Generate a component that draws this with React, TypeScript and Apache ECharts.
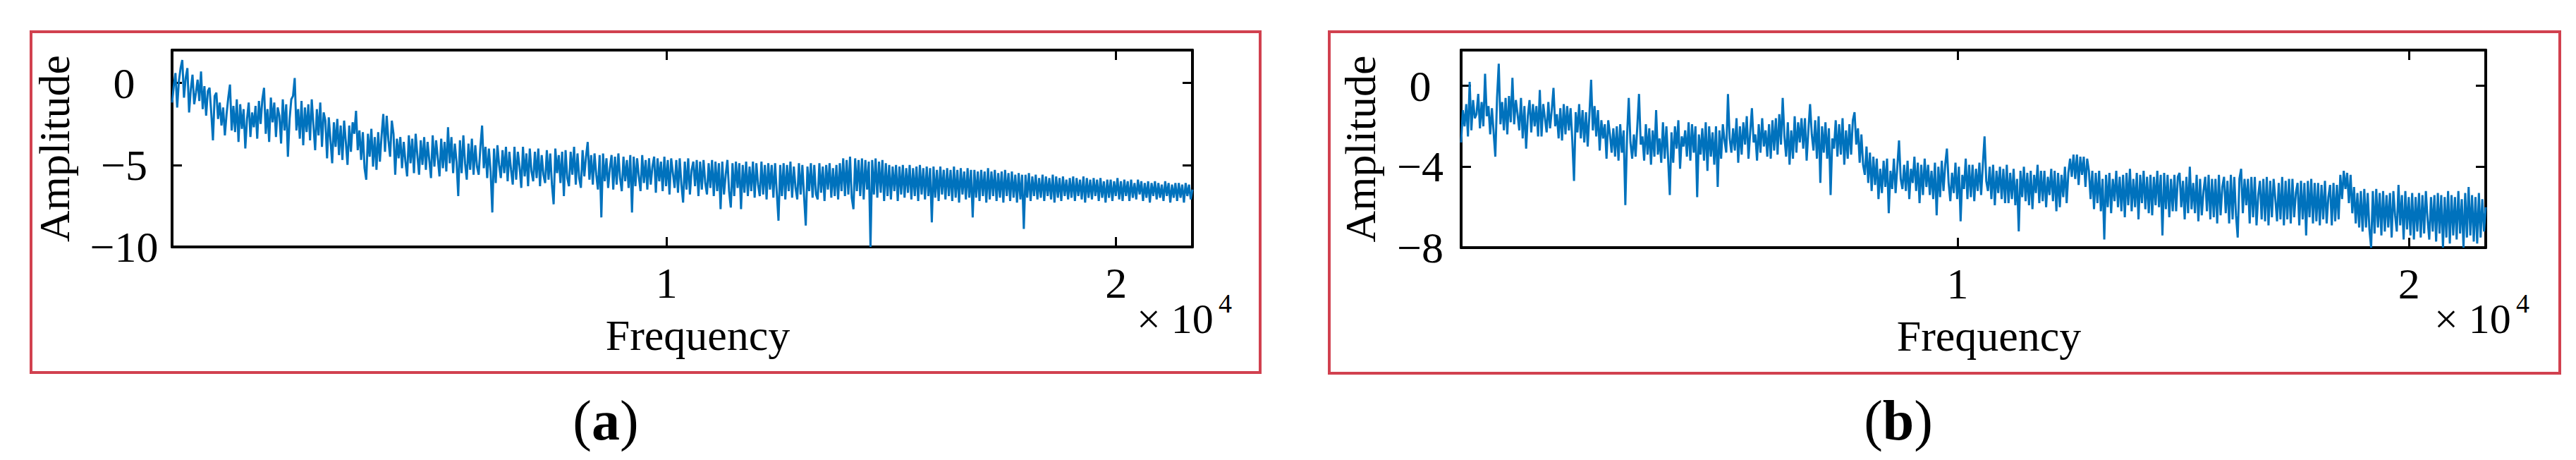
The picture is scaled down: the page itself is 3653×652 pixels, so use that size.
import React, { useEffect, useRef } from "react";
import * as echarts from "echarts";

// ---------- data ----------
const FREQ_MIN = -1000;
const FREQ_MAX = 21700;
const xTickValues = [10000, 20000];
const xTickLabels = ["1", "2"];
const yTicksA = [-10, -5, 0];
const yTicksB = [-8, -4, 0];
const yRangeA = [-10, 2];
const yRangeB = [-8, 1.77];
const panelLabels = ["a", "b"];

const ampA = [
  -1.2, -0.2, 0.6, -1.5, 0.1, 0.9, 1.4, -0.9, 0.3, 0.9,
  -1.8, -0.4, 0.5, -1.3, -0.6, 0.2, -1.1, 0.7, -1.6, -0.2,
  -2.0, -0.5, -0.3, -1.8, -3.5, -0.8, -0.6, -2.2, -1.2, -2.6,
  -1.5, -3.2, -1.9, -0.9, -0.1, -2.9, -1.4, -3.0, -1.0, -3.6,
  -1.3, -2.8, -1.6, -4.0, -2.2, -1.2, -3.3, -1.8, -2.7, -1.4,
  -3.4, -1.1, -2.5, -1.0, -0.3, -3.1, -1.6, -3.6, -0.9, -2.4,
  -1.2, -3.3, -1.5, -2.0, -3.7, -1.0, -2.9, -1.3, -4.5, -2.2,
  -1.0, -0.8, 0.3, -2.9, -1.6, -3.4, -1.1, -3.8, -1.5, -3.0,
  -1.3, -3.5, -1.0, -2.6, -4.1, -1.6, -3.2, -1.2, -3.9, -1.8,
  -2.3, -4.6, -2.1, -3.5, -4.9, -2.4, -3.9, -2.2, -4.4, -2.6,
  -4.7, -2.3, -3.6, -5.0, -2.6, -4.2, -2.4, -3.1, -1.7, -4.1,
  -2.9, -4.7, -3.0, -5.2, -5.9, -3.1, -4.5, -2.8, -5.1, -3.3,
  -5.3, -3.0, -4.8, -3.2, -1.9, -4.2, -2.0, -3.5, -4.5, -2.3,
  -3.1, -5.6, -3.4, -4.6, -3.3, -5.2, -3.6, -4.8, -5.7, -3.2,
  -4.9, -3.4, -5.5, -3.1, -4.4, -5.6, -3.5, -5.0, -3.3, -5.3,
  -3.6, -4.7, -5.8, -3.2, -5.1, -3.5, -4.6, -5.7, -3.4, -5.2,
  -3.6, -5.4, -2.7, -4.9, -3.3, -5.5, -3.7, -4.8, -6.9, -3.5,
  -5.5, -3.2, -4.9, -5.9, -3.7, -5.3, -3.4, -5.6, -3.8, -5.1,
  -5.6, -3.9, -2.6, -5.2, -3.9, -5.8, -4.0, -5.4, -7.9, -4.0,
  -6.1, -3.8, -5.0, -5.8, -4.1, -5.5, -3.9, -6.0, -4.2, -5.3,
  -6.2, -3.9, -5.9, -4.2, -5.1, -6.4, -3.9, -5.7, -4.3, -6.3,
  -4.0, -5.4, -6.0, -4.2, -5.8, -4.0, -6.3, -4.4, -5.6, -6.1,
  -4.1, -5.9, -4.3, -6.2, -7.4, -4.0, -5.5, -4.4, -6.1, -4.2,
  -6.9, -4.1, -5.8, -6.3, -4.2, -5.6, -3.9, -6.2, -4.3, -5.8,
  -6.4, -4.1, -5.7, -4.5, -3.6, -5.9, -4.4, -6.2, -4.3, -5.6,
  -6.5, -4.4, -8.2, -4.3, -6.0, -4.6, -6.4, -5.2, -4.4, -6.5,
  -4.5, -6.2, -4.3, -5.8, -6.6, -4.5, -6.0, -4.7, -6.4, -4.4,
  -7.9, -4.5, -6.3, -4.6, -5.7, -6.6, -4.4, -6.1, -4.7, -6.5,
  -4.6, -6.2, -5.1, -4.5, -6.7, -4.6, -6.0, -4.8, -6.6, -4.5,
  -6.3, -4.7, -6.8, -4.6, -5.5, -6.4, -4.7, -6.7, -4.6, -6.2,
  -7.3, -4.8, -6.5, -4.6, -6.8, -5.3, -4.8, -6.3, -4.7, -6.9,
  -4.8, -6.5, -4.7, -6.1, -6.8, -4.9, -6.4, -4.7, -6.9, -4.8,
  -6.6, -4.9, -7.7, -4.8, -6.8, -5.6, -4.7, -6.6, -7.6, -4.9,
  -6.9, -4.8, -6.4, -4.9, -7.7, -5.0, -6.7, -4.8, -6.9, -5.1,
  -6.6, -4.8, -7.0, -4.9, -6.2, -6.9, -4.8, -6.8, -5.0, -7.1,
  -4.9, -6.5, -5.0, -7.0, -4.9, -6.7, -8.4, -5.0, -6.9, -4.9,
  -7.1, -5.0, -6.6, -4.8, -7.0, -5.1, -6.4, -7.1, -4.9, -6.8,
  -5.0, -6.9, -8.7, -5.1, -6.6, -4.9, -7.0, -5.0, -6.8, -7.1,
  -4.9, -6.7, -5.1, -7.2, -5.0, -6.5, -4.9, -7.0, -5.2, -6.9,
  -5.0, -7.1, -4.9, -6.6, -4.6, -6.9, -4.7, -6.8, -4.5, -7.0,
  -7.7, -4.6, -6.6, -4.7, -6.9, -4.6, -7.1, -4.7, -6.5, -4.8,
  -10.0, -4.7, -6.8, -4.6, -7.0, -4.8, -6.7, -4.7, -7.2, -4.9,
  -6.9, -5.0, -7.1, -5.1, -6.6, -5.0, -7.2, -5.1, -6.8, -5.0,
  -7.0, -5.2, -6.7, -5.0, -7.1, -5.2, -6.9, -5.1, -7.2, -5.0,
  -6.8, -5.2, -7.1, -5.1, -6.9, -5.2, -8.5, -5.1, -7.0, -5.3,
  -7.2, -5.1, -6.8, -5.3, -7.1, -5.2, -6.9, -5.3, -7.2, -5.1,
  -7.0, -5.3, -7.3, -5.2, -6.8, -5.4, -7.1, -5.2, -7.0, -5.3,
  -8.2, -5.3, -7.0, -5.4, -7.2, -5.3, -6.9, -5.4, -7.3, -5.2,
  -7.1, -5.4, -6.9, -5.3, -7.2, -5.5, -7.0, -5.4, -7.3, -5.3,
  -6.9, -5.5, -7.2, -5.4, -7.0, -5.6, -7.3, -5.5, -7.1, -5.6,
  -8.9, -5.6, -7.0, -5.5, -7.2, -5.7, -6.9, -5.6, -7.1, -5.8,
  -7.0, -5.6, -7.2, -5.7, -6.9, -5.8, -7.1, -5.6, -7.3, -5.7,
  -7.0, -5.8, -7.2, -5.7, -6.9, -5.9, -7.1, -5.8, -7.0, -5.7,
  -7.2, -5.8, -6.9, -5.9, -7.1, -5.7, -7.3, -5.8, -7.0, -5.9,
  -7.1, -5.8, -6.9, -5.9, -7.2, -5.8, -7.0, -6.0, -7.3, -5.9,
  -7.0, -5.9, -7.2, -6.0, -6.9, -5.8, -7.1, -6.0, -7.2, -5.9,
  -6.9, -6.0, -7.2, -5.9, -7.0, -6.1, -7.1, -5.9, -6.8, -6.0,
  -7.2, -6.1, -7.0, -6.0, -7.3, -6.1, -6.9, -6.0, -7.1, -6.1,
  -7.0, -6.2, -7.2, -6.0, -6.9, -6.1, -7.3, -6.2, -7.0, -6.1,
  -7.2, -6.1, -7.0, -6.2, -7.3, -6.1, -6.9, -6.2, -7.1, -6.5,
];

const ampB = [
  -2.8, -1.2, -2.0, -0.9, -2.5, 0.2, -2.2, -0.7, -1.6, -1.4,
  -0.4, -2.1, -0.8, -2.0, 0.6, -1.5, -1.0, -2.4, -1.1, -2.3,
  -3.5, -0.6, 1.1, -1.9, -0.8, -2.2, -0.6, -2.4, -0.5, -1.8,
  0.4, -1.9, -0.7, -1.4, -2.2, -0.6, -2.6, -1.0, -3.1, -1.5,
  -0.7, -2.3, -0.9, -2.0, -1.0, -2.5, -0.2, -2.5, -0.9, -1.6,
  -2.3, -0.8, -2.1, -1.2, -0.1, -2.0, -1.4, -2.6, -1.1, -2.7,
  -0.9, -2.4, -1.0, -2.2, -1.1, -2.7, -4.7, -1.3, -2.3, -0.9,
  -2.6, -1.2, -2.8, -1.3, -3.0, -1.4, 0.3, -2.2, -1.0, -2.5,
  -1.2, -3.2, -1.7, -2.6, -1.9, -3.6, -1.7, -2.4, -3.3, -2.1,
  -3.5, -2.0, -3.7, -1.9, -3.3, -2.2, -5.9, -2.5, -0.6, -2.8,
  -3.6, -2.4, -3.5, -2.0, -0.4, -2.9, -2.5, -3.7, -1.9, -3.4,
  -2.1, -3.9, -2.2, -3.5, -1.2, -3.4, -2.6, -3.8, -1.8, -3.6,
  -2.0, -3.6, -5.4, -2.3, -3.8, -2.0, -3.1, -1.7, -4.1, -2.5,
  -3.0, -2.2, -3.5, -1.8, -3.7, -1.9, -3.3, -2.0, -5.5, -2.4,
  -3.4, -2.1, -3.7, -1.8, -4.2, -2.0, -3.5, -2.3, -3.9, -2.0,
  -5.0, -2.2, -3.6, -1.9, -2.7, -3.3, -0.4, -2.6, -3.3, -2.1,
  -3.2, -1.6, -3.8, -2.0, -3.4, -1.8, -2.9, -1.5, -3.6, -2.3,
  -1.1, -2.8, -2.4, -3.7, -1.9, -3.3, -1.6, -3.0, -2.2, -3.5,
  -1.9, -3.6, -1.7, -3.2, -1.6, -3.4, -1.4, -2.9, -0.6, -2.5,
  -3.5, -1.8, -3.9, -2.2, -3.6, -1.5, -3.3, -1.8, -2.8, -1.6,
  -3.1, -1.6, -3.7, -2.2, -0.9, -2.4, -3.2, -1.7, -3.6, -1.5,
  -4.8, -2.0, -3.3, -1.8, -3.6, -2.1, -5.4, -2.6, -3.1, -1.7,
  -3.5, -1.9, -3.4, -1.6, -3.9, -2.2, -3.6, -1.9, -3.4, -1.7,
  -1.3, -2.9, -2.1, -3.8, -2.4, -3.9, -4.4, -3.0, -4.8, -3.3,
  -5.2, -3.5, -4.9, -3.6, -5.6, -4.1, -5.3, -3.7, -5.0, -3.6,
  -6.3, -4.2, -5.1, -3.6, -5.3, -4.0, -2.7, -4.6, -5.1, -3.9,
  -5.2, -3.7, -5.6, -4.1, -4.8, -3.5, -5.2, -3.8, -5.8, -3.9,
  -5.4, -3.6, -5.0, -3.9, -5.4, -4.2, -5.6, -3.8, -6.4, -4.0,
  -5.5, -3.7, -5.2, -3.9, -3.1, -4.8, -5.7, -4.3, -5.3, -3.8,
  -5.6, -4.0, -6.7, -4.4, -5.1, -3.6, -5.6, -3.9, -5.5, -3.9,
  -5.7, -4.1, -5.2, -3.8, -5.4, -3.9, -2.5, -4.7, -5.2, -4.0,
  -5.6, -3.9, -5.9, -4.2, -5.3, -4.0, -5.6, -4.1, -5.8, -3.9,
  -5.8, -4.3, -5.6, -4.1, -5.9, -4.6, -7.2, -4.2, -5.5, -4.0,
  -5.7, -4.3, -5.9, -4.2, -6.1, -4.4, -5.3, -3.9, -5.8, -4.2,
  -5.7, -4.2, -6.0, -4.5, -5.4, -4.1, -5.7, -4.2, -6.2, -4.3,
  -6.0, -4.4, -5.5, -4.0, -5.8, -4.3, -3.6, -4.5, -3.4, -4.6,
  -3.4, -4.9, -3.5, -4.4, -3.5, -5.0, -3.6, -4.2, -5.6, -4.2,
  -6.1, -4.3, -5.8, -4.2, -6.2, -4.6, -7.6, -4.4, -6.0, -4.3,
  -6.3, -4.6, -5.7, -4.2, -6.0, -4.5, -6.2, -4.4, -6.5, -4.3,
  -5.9, -4.1, -6.2, -4.6, -6.0, -4.3, -6.6, -4.4, -5.8, -4.2,
  -6.1, -4.5, -6.3, -4.4, -6.4, -4.5, -5.9, -4.2, -6.0, -4.4,
  -7.4, -4.3, -6.1, -4.4, -6.5, -4.6, -6.2, -4.4, -6.2, -4.5,
  -4.3, -6.0, -4.7, -6.6, -4.5, -6.3, -4.0, -6.1, -4.8, -6.3,
  -4.4, -6.7, -4.6, -6.4, -5.2, -4.5, -6.2, -4.4, -6.6, -4.6,
  -6.5, -4.6, -6.8, -4.4, -6.4, -5.0, -4.5, -6.3, -4.7, -6.8,
  -4.4, -6.6, -4.5, -6.4, -7.5, -4.6, -4.1, -6.3, -4.6, -5.9,
  -4.6, -6.8, -4.5, -6.5, -4.5, -6.9, -5.4, -4.7, -6.6, -4.6,
  -6.7, -4.5, -6.9, -4.7, -6.5, -4.6, -5.6, -6.7, -4.8, -6.6,
  -4.5, -6.9, -4.7, -6.6, -4.6, -6.8, -4.6, -6.5, -5.3, -4.8,
  -6.9, -4.7, -6.6, -4.8, -7.4, -4.7, -6.5, -4.6, -6.8, -4.8,
  -6.7, -4.8, -6.9, -4.9, -6.6, -4.7, -6.8, -5.5, -4.9, -6.9,
  -4.8, -6.7, -4.9, -6.6, -4.4, -5.6, -4.2, -5.1, -4.3, -5.8,
  -4.4, -6.3, -5.0, -6.8, -5.3, -7.0, -5.2, -7.2, -5.1, -7.0,
  -5.3, -7.1, -8.0, -5.2, -7.3, -5.1, -7.0, -5.3, -7.4, -5.2,
  -7.2, -5.4, -7.0, -5.3, -7.5, -5.2, -6.4, -7.2, -4.9, -6.9,
  -5.4, -7.6, -5.2, -7.1, -5.5, -7.4, -5.3, -7.6, -5.5, -7.2,
  -5.3, -7.5, -5.4, -7.3, -5.2, -6.6, -7.6, -5.5, -7.2, -5.4,
  -7.7, -5.3, -7.3, -5.4, -8.0, -5.5, -7.5, -5.2, -7.8, -5.4,
  -7.4, -5.5, -7.6, -5.2, -7.3, -5.6, -8.0, -5.3, -7.5, -5.0,
  -7.4, -5.4, -7.7, -5.5, -7.8, -5.3, -7.5, -5.6, -7.2, -6.0,
];

// ---------- helpers ----------
const FONT = '"Liberation Serif", "Times New Roman", serif';
const LINE_COLOR = "#0072BD";
const RED = "#d1414f";

function toPairs(vals: number[]) {
  const n = vals.length;
  const step = (FREQ_MAX - FREQ_MIN) / (n - 1);
  return vals.map((v, i) => [FREQ_MIN + i * step, v]);
}

function fmtY(v: number) {
  return v < 0 ? "\u2212" + Math.abs(v) : String(v);
}

type Panel = {
  grid: { left: number; top: number; width: number; height: number };
  yRange: number[];
  yTicks: number[];
  yLabelMargin: number;
  yNameGap: number;
  values: number[];
};

export default function App() {
  const ref = useRef<HTMLDivElement>(null);

  useEffect(() => {
    if (!ref.current) return;
    const chart = echarts.init(ref.current, null, { renderer: "svg" });

    const panels: Panel[] = [
      {
        grid: { left: 244, top: 71, width: 1447, height: 279 },
        yRange: yRangeA,
        yTicks: yTicksA,
        yLabelMargin: 68,
        yNameGap: 136,
        values: ampA,
      },
      {
        grid: { left: 2072, top: 71, width: 1453, height: 280 },
        yRange: yRangeB,
        yTicks: yTicksB,
        yLabelMargin: 58,
        yNameGap: 112,
        values: ampB,
      },
    ];

    const axisLine = { show: true, onZero: false, lineStyle: { color: "#000", width: 4 } };
    const tickStyle = { color: "#000", width: 3 };

    const grids: any[] = [];
    const xAxes: any[] = [];
    const yAxes: any[] = [];
    const series: any[] = [];
    const graphics: any[] = [];

    panels.forEach((p, k) => {
      grids.push({ ...p.grid, show: false, containLabel: false });
      xAxes.push({
        type: "value",
        gridIndex: k,
        position: "bottom",
        min: FREQ_MIN,
        max: FREQ_MAX,
        axisLine,
        axisTick: { show: true, inside: true, length: 14, lineStyle: tickStyle, customValues: xTickValues },
        axisLabel: {
          show: true,
          customValues: xTickValues,
          formatter: (v: number) => xTickLabels[xTickValues.indexOf(v)] ?? "",
          fontFamily: FONT,
          fontSize: 62,
          color: "#000",
          margin: 20,
        },
        splitLine: { show: false },
        name: "Frequency",
        nameLocation: "middle",
        nameGap: 94,
        nameTextStyle: { fontFamily: FONT, fontSize: 62, color: "#000", padding: [0, 0, 0, 44] },
      });
      xAxes.push({
        type: "value",
        gridIndex: k,
        position: "top",
        min: FREQ_MIN,
        max: FREQ_MAX,
        axisLine,
        axisTick: { show: true, inside: true, length: 14, lineStyle: tickStyle, customValues: xTickValues },
        axisLabel: { show: false },
        splitLine: { show: false },
      });
      yAxes.push({
        type: "value",
        gridIndex: k,
        position: "left",
        min: p.yRange[0],
        max: p.yRange[1],
        axisLine,
        axisTick: { show: true, inside: true, length: 14, lineStyle: tickStyle, customValues: p.yTicks },
        axisLabel: {
          show: true,
          customValues: p.yTicks,
          formatter: (v: number) => fmtY(v),
          fontFamily: FONT,
          fontSize: 62,
          color: "#000",
          align: "center",
          margin: p.yLabelMargin,
        },
        splitLine: { show: false },
        name: "Amplitude",
        nameLocation: "middle",
        nameGap: p.yNameGap,
        nameTextStyle: { fontFamily: FONT, fontSize: 62, color: "#000" },
      });
      yAxes.push({
        type: "value",
        gridIndex: k,
        position: "right",
        min: p.yRange[0],
        max: p.yRange[1],
        axisLine,
        axisTick: { show: true, inside: true, length: 14, lineStyle: tickStyle, customValues: p.yTicks },
        axisLabel: { show: false },
        splitLine: { show: false },
      });
      series.push({
        type: "line",
        xAxisIndex: k * 2,
        yAxisIndex: k * 2,
        data: toPairs(p.values),
        showSymbol: false,
        symbol: "none",
        lineStyle: { color: LINE_COLOR, width: 3 },
        z: 1,
      });
    });

    const frames = [
      { x: 44, y: 45, w: 1743, h: 483 },
      { x: 1885, y: 45, w: 1745, h: 484 },
    ];
    frames.forEach((f) => {
      graphics.push({
        type: "rect",
        shape: { x: f.x, y: f.y, width: f.w, height: f.h },
        style: { fill: "none", stroke: RED, lineWidth: 4 },
        z: 0,
        silent: true,
      });
    });

    const expLeft = [1612, 3452];
    expLeft.forEach((xl) => {
      graphics.push({
        type: "text",
        x: xl,
        y: 452,
        style: { text: "\u00d7 10", fontFamily: FONT, fontSize: 60, fill: "#000", textAlign: "left", textVerticalAlign: "middle" },
        silent: true,
      });
      graphics.push({
        type: "text",
        x: xl + 116,
        y: 430,
        style: { text: "4", fontFamily: FONT, fontSize: 38, fill: "#000", textAlign: "left", textVerticalAlign: "middle" },
        silent: true,
      });
    });

    const capX = [859, 2692];
    panelLabels.forEach((lab, k) => {
      graphics.push({
        type: "text",
        x: capX[k],
        y: 596,
        style: {
          text: "{p|(}{b|" + lab + "}{p|)}",
          fontFamily: FONT,
          fontSize: 80,
          fill: "#000",
          textAlign: "center",
          textVerticalAlign: "middle",
          rich: {
            p: { fontFamily: FONT, fontSize: 80, fill: "#000" },
            b: { fontFamily: FONT, fontSize: 80, fontWeight: "bold", fill: "#000" },
          },
        },
        silent: true,
      });
    });

    chart.setOption({
      animation: false,
      backgroundColor: "#ffffff",
      grid: grids,
      xAxis: xAxes,
      yAxis: yAxes,
      series,
      graphic: graphics,
    });

    return () => chart.dispose();
  }, []);

  return (
    <div
      ref={ref}
      style={{ position: "absolute", left: 0, top: 0, width: 3653, height: 652, background: "#fff" }}
    />
  );
}
